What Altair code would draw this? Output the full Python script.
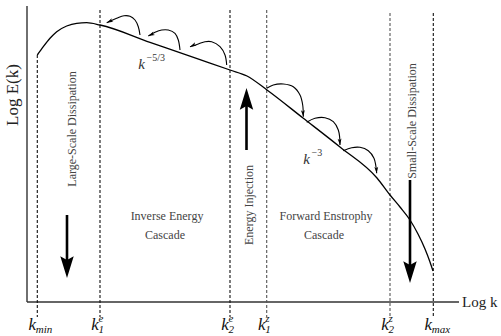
import altair as alt
import pandas as pd

W, H = 501, 336
FONT = "Liberation Serif"

# ---------------- data (figure units: x = log k, y = log E measured downward) -------------
# axes
axis_origin = (27, 302)
yaxis_top = 6
xaxis_right = 459

# energy spectrum E(k)
curve_x = [37.3, 43.3, 50, 56.7, 66.7, 76.7, 86.7, 100, 150, 200, 230, 247,
           267, 303, 340, 377, 390, 400, 410, 418, 425, 430, 433]
curve_y = [55, 46.7, 38.3, 31.7, 26, 23.3, 22.7, 25, 42.3, 59.6, 70, 76,
           90, 118, 147, 178, 195, 207, 220, 234, 249, 262, 271]

# characteristic wavenumbers
k_pos = [37.3, 100, 230, 266.7, 390, 433.3]
k_top = [55, 10, 10, 10, 13, 13]
k_bottom = [317, 317, 317, 317, 317, 317]
k_color = ["#111", "#111", "#111", "#555", "#555", "#111"]
k_sub = ["min", "1", "2", "1", "2", "max"]
k_sup = ["", "e", "e", "z", "z", ""]

# small cascade arrows (inverse: leftward, forward: rightward)
inv_arrows = [
    [(140, 35), (138.3, 26.7), (135, 20), (130, 16.3), (124, 15.8), (116.7, 18.3), (106.7, 22.7)],
    [(180, 50), (178.3, 40), (175, 33.3), (168.3, 30), (161.7, 30), (155, 32.3), (148.3, 36)],
    [(226.7, 65), (225, 55), (220, 46.7), (211.7, 41.7), (205, 41.7), (198.3, 44), (190, 46.7)],
]
fwd_arrows = [
    [(266.7, 88.3), (273.3, 85), (283.3, 84), (293.3, 86.7), (300, 95), (302.7, 105), (303.3, 116.7)],
    [(306.7, 122.3), (315, 118.3), (325, 117.7), (333.3, 121.7), (338.3, 130), (340, 145)],
    [(343.3, 150.7), (351.7, 147.7), (360, 147.3), (368.3, 150.7), (374, 158.3), (376.7, 173.3)],
]
inv_head_angle = 245
fwd_head_angle = 176

# big arrows: x, shaft start, tip, direction
big_x = [67, 246.5, 410]
big_from = [215, 150, 180]
big_tip = [278, 88, 283]
big_angle = [180, 0, 180]

# texts
rot_text = ["Large-Scale Dissipation", "Energy Injection", "Small-Scale Dissipation"]
rot_x = [71.5, 249, 412]
rot_y = [129, 205, 121]

region_text = ["Inverse Energy", "Cascade", "Forward Enstrophy", "Cascade"]
region_x = [167, 165, 326, 324]
region_y = [216, 235, 216, 235]

slope_base = ["k", "k"]
slope_exp = ["\u22125/3", "\u22123"]
slope_x = [141.5, 306.5]
slope_y = [64, 159]

# ---------------- helpers ----------------
xs = alt.Scale(domain=[0, W], nice=False, zero=False)
ys = alt.Scale(domain=[0, H], nice=False, zero=False, reverse=True)


def X(f):
    return alt.X(f, type="quantitative", scale=xs, axis=None)


def Y(f):
    return alt.Y(f, type="quantitative", scale=ys, axis=None)


layers = []

# axes
ax_df = pd.DataFrame({
    "x": [axis_origin[0], axis_origin[0]], "x2": [axis_origin[0], xaxis_right],
    "y": [yaxis_top, axis_origin[1]], "y2": [axis_origin[1], axis_origin[1]],
})
layers.append(alt.Chart(ax_df).mark_rule(color="#333", strokeWidth=1.4).encode(
    x=X("x"), x2="x2", y=Y("y"), y2="y2"))

# dashed wavenumber lines
kd = pd.DataFrame({"x": k_pos, "top": k_top, "bot": k_bottom, "c": k_color,
                   "sub": k_sub, "sup": k_sup})
layers.append(alt.Chart(kd).mark_rule(strokeDash=[3, 2], strokeWidth=1.1).encode(
    x=X("x"), y=Y("top"), y2="bot", color=alt.Color("c:N", scale=None)))

# spectrum
cd = pd.DataFrame({"x": curve_x, "y": curve_y, "i": range(len(curve_x))})
layers.append(alt.Chart(cd).mark_line(color="black", strokeWidth=1.3, interpolate="monotone").encode(
    x=X("x"), y=Y("y"), order="i:Q"))

# small arrows
rows = []
heads = []
for j, arr in enumerate(inv_arrows):
    for i, (x, y) in enumerate(arr):
        rows.append({"a": f"inv{j}", "i": i, "x": x, "y": y})
    heads.append({"x": arr[-1][0], "y": arr[-1][1], "ang": inv_head_angle})
for j, arr in enumerate(fwd_arrows):
    for i, (x, y) in enumerate(arr):
        rows.append({"a": f"fwd{j}", "i": i, "x": x, "y": y})
    heads.append({"x": arr[-1][0], "y": arr[-1][1], "ang": fwd_head_angle})
ad = pd.DataFrame(rows)
layers.append(alt.Chart(ad).mark_line(color="black", strokeWidth=1.1, interpolate="catmull-rom").encode(
    x=X("x"), y=Y("y"), detail="a:N", order="i:Q"))

HEAD = "M0,0 L0.6,2 L0,1.5 L-0.6,2 Z"
hd = pd.DataFrame(heads)
layers.append(alt.Chart(hd).mark_point(shape=HEAD, filled=True, size=42, color="black",
                                       opacity=1, strokeWidth=0).encode(
    x=X("x"), y=Y("y"), angle=alt.Angle("ang:Q", scale=None)))

# big arrows
bd = pd.DataFrame({"x": big_x, "y": big_from, "y2": big_tip, "ang": big_angle})
shaft = bd.copy()
shaft["y2"] = [t - 10 if a == 180 else t + 10 for t, a in zip(big_tip, big_angle)]
layers.append(alt.Chart(shaft).mark_rule(color="black", strokeWidth=2.6).encode(
    x=X("x"), y=Y("y"), y2="y2"))
BIGHEAD = "M0,0 L0.62,2 L0,1.65 L-0.62,2 Z"
layers.append(alt.Chart(bd).mark_point(shape=BIGHEAD, filled=True, size=470, color="black",
                                       opacity=1, strokeWidth=0).encode(
    x=X("x"), y=Y("y2"), angle=alt.Angle("ang:Q", scale=None)))

# rotated texts
rt = pd.DataFrame({"t": rot_text, "x": rot_x, "y": rot_y})
layers.append(alt.Chart(rt).mark_text(angle=270, font=FONT, fontSize=12, color="#444",
                                      baseline="middle", align="center").encode(
    x=X("x"), y=Y("y"), text="t:N"))

# region texts
rg = pd.DataFrame({"t": region_text, "x": region_x, "y": region_y})
layers.append(alt.Chart(rg).mark_text(font=FONT, fontSize=12, color="#444",
                                      baseline="middle", align="center").encode(
    x=X("x"), y=Y("y"), text="t:N"))

# slope labels
sl = pd.DataFrame({"b": slope_base, "e": slope_exp, "x": slope_x, "y": slope_y})
layers.append(alt.Chart(sl).mark_text(font=FONT, fontSize=15, fontStyle="italic", color="#333",
                                      baseline="middle", align="center").encode(
    x=X("x"), y=Y("y"), text="b:N"))
layers.append(alt.Chart(sl).mark_text(font=FONT, fontSize=10, color="#333", dx=5, dy=-6,
                                      baseline="middle", align="left").encode(
    x=X("x"), y=Y("y"), text="e:N"))

# wavenumber labels
layers.append(alt.Chart(kd).mark_text(font=FONT, fontSize=17, fontStyle="italic", color="#111",
                                      baseline="alphabetic", align="center", dx=-5).encode(
    x=X("x"), y=alt.value(330), text=alt.value("k")))
layers.append(alt.Chart(kd).mark_text(font=FONT, fontSize=11, fontStyle="italic", color="#111",
                                      baseline="alphabetic", align="left", dx=-1.5).encode(
    x=X("x"), y=alt.value(333), text="sub:N"))
layers.append(alt.Chart(kd).mark_text(font=FONT, fontSize=11, fontStyle="italic", color="#111",
                                      baseline="alphabetic", align="left", dx=-1.5).encode(
    x=X("x"), y=alt.value(322), text="sup:N"))

# axis titles
at = pd.DataFrame({"t": ["Log k"], "x": [462], "y": [302]})
layers.append(alt.Chart(at).mark_text(font=FONT, fontSize=15, color="#222",
                                      baseline="middle", align="left").encode(
    x=X("x"), y=Y("y"), text="t:N"))
at2 = pd.DataFrame({"t": ["Log E(k)"], "x": [13], "y": [95]})
layers.append(alt.Chart(at2).mark_text(font=FONT, fontSize=17, color="#222", angle=270,
                                       baseline="middle", align="center").encode(
    x=X("x"), y=Y("y"), text="t:N"))

chart = alt.layer(*layers).properties(
    width=W, height=H, padding=0, autosize=alt.AutoSizeParams(type="none")
).configure_view(stroke=None)

chart.save("out.html", embed_options={"renderer": "svg", "actions": False})
